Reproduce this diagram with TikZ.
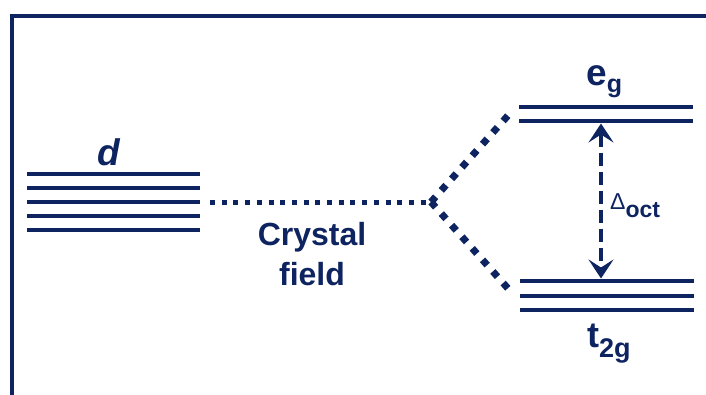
\documentclass[tikz,border=0pt]{standalone}
\usepackage{fontspec}
\setmainfont{Liberation Sans}
\usetikzlibrary{arrows.meta}
\definecolor{navy}{RGB}{14,36,96}
\begin{document}
\begin{tikzpicture}[x=1pt,y=-1pt,
  frame/.style={navy,line width=4.5pt},
  level/.style={navy,line width=4.5pt},
  dotsh/.style={navy,line width=5pt,dash pattern=on 5pt off 6.7pt},
  dotsd/.style={navy,line width=7pt,dash pattern=on 7pt off 8.5pt},
  gap/.style={navy,line width=4pt,dash pattern=on 13pt off 6pt,
    {Stealth[length=19pt,width=25pt,inset=8pt]}-{Stealth[length=19pt,width=25pt,inset=8pt]}},
  lbl/.style={text=navy,font=\bfseries,inner sep=0pt}]
\useasboundingbox (0,0) rectangle (706,394);
% frame
\draw[frame] (12,396) -- (12,16) -- (708,16);
% d levels
\foreach \y in {174,188,202,216,230} \draw[level] (27,\y) -- (200,\y);
\node[lbl,anchor=base,font=\bfseries\itshape\fontsize{37}{37}\selectfont] (dlab) at (109,165) {d};
% eg levels
\foreach \y in {107,121} \draw[level] (519,\y) -- (693,\y);
\node[lbl,anchor=base west,font=\bfseries\fontsize{37}{37}\selectfont] (eglab) at (586,85) {e\raisebox{-7pt}{\fontsize{25}{25}\selectfont g}};
% t2g levels
\foreach \y in {281,296,310} \draw[level] (520,\y) -- (694,\y);
\node[lbl,anchor=base west,font=\bfseries\fontsize{36}{36}\selectfont] (tlab) at (587,347) {t\raisebox{-10pt}{\fontsize{27}{27}\selectfont 2g}};
% connectors
\coordinate (dR) at (210,202);
\coordinate (J) at (431,202);
\coordinate (egL) at (512,111);
\coordinate (tL) at (512,293);
\draw[dotsh] (dR) -- (J);
\draw[dotsd] (J) -- (egL);
\draw[dotsd] (J) -- (tL);
\node[lbl,anchor=base,font=\bfseries\fontsize{32}{32}\selectfont] (cry) at (312,245) {Crystal};
\node[lbl,anchor=base,font=\bfseries\fontsize{32}{32}\selectfont] (fld) at (312,285) {field};
% gap arrow
\coordinate (aT) at (601,123.5);
\coordinate (aB) at (601,278.5);
\draw[gap] (aT) -- (aB);
\node[lbl,anchor=base west,font=\fontsize{23}{23}\selectfont] (dlt) at (610,209) {\char"0394\raisebox{-8pt}{\bfseries\fontsize{23}{23}\selectfont oct}};
\end{tikzpicture}
\end{document}
